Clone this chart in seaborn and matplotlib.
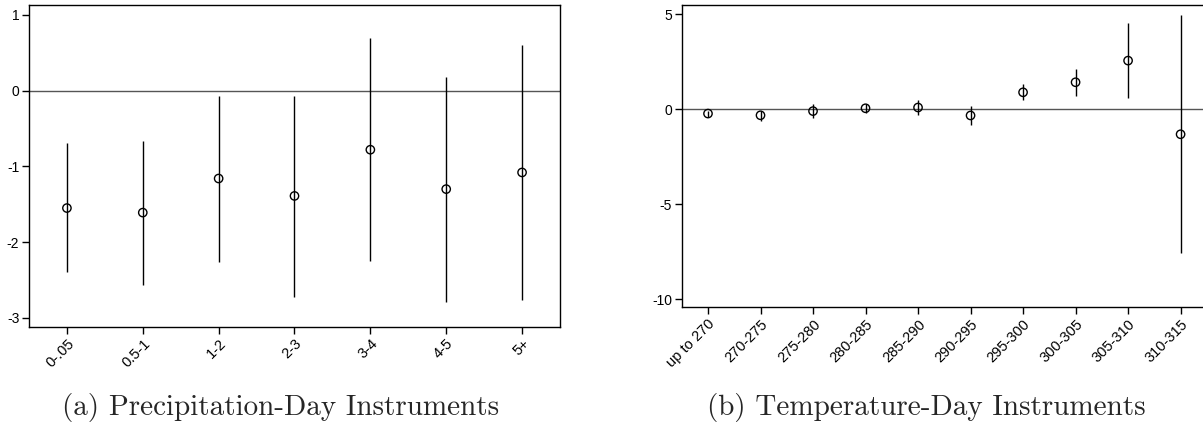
"""Coefficient plots for precipitation-day and temperature-day instruments."""

import numpy as np
import matplotlib
matplotlib.use("Agg")
import matplotlib.pyplot as plt
import seaborn as sns

# --- data ---
precip_labels = ["0-.05", "0.5-1", "1-2", "2-3", "3-4", "4-5", "5+"]
precip_coef = [-1.55, -1.61, -1.16, -1.39, -0.78, -1.30, -1.08]
precip_lo = [-2.40, -2.57, -2.26, -2.72, -2.25, -2.79, -2.77]
precip_hi = [-0.69, -0.67, -0.075, -0.075, 0.69, 0.18, 0.60]

temp_labels = ["up to 270", "270-275", "275-280", "280-285", "285-290",
               "290-295", "295-300", "300-305", "305-310", "310-315"]
temp_coef = [-0.23, -0.32, -0.10, 0.05, 0.09, -0.33, 0.89, 1.42, 2.56, -1.32]
temp_lo = [-0.40, -0.61, -0.46, -0.19, -0.32, -0.84, 0.49, 0.70, 0.58, -7.60]
temp_hi = [-0.09, -0.10, 0.25, 0.25, 0.47, 0.17, 1.32, 2.11, 4.54, 4.95]

sns.set_style("ticks")
plt.rcParams["font.family"] = ["Liberation Sans", "DejaVu Sans"]

fig = plt.figure(figsize=(12.03, 4.34), dpi=100)
ax1 = fig.add_axes([0.0241, 0.2465, 0.4414, 0.742])
# right panel runs off the edge of the page, as in the original
ax2 = fig.add_axes([0.5667, 0.2926, 0.4365, 0.6959])


def coef_panel(ax, labels, coef, lo, hi, ylim, yticks):
    x = np.arange(len(labels))
    ax.axhline(0, color="#555555", lw=1.0, zorder=1)
    ax.vlines(x, lo, hi, color="black", lw=1.0, zorder=2)
    sns.scatterplot(x=x, y=coef, ax=ax, marker="o", s=36, facecolor="none",
                    edgecolor="black", linewidth=1.0, zorder=3)
    ax.set_xlim(-0.5, len(labels) - 0.5)
    ax.set_ylim(*ylim)
    ax.set_yticks(yticks)
    ax.set_yticklabels([str(t) for t in yticks])
    ax.set_xticks(x)
    ax.set_xticklabels(labels, rotation=45, ha="right", rotation_mode="anchor")
    ax.tick_params(axis="both", length=5, width=1, colors="black", pad=2)
    ax.tick_params(axis="y", labelsize=10)
    ax.tick_params(axis="x", labelsize=10.5)
    for s in ax.spines.values():
        s.set_visible(True)
        s.set_color("black")
        s.set_linewidth(1.0)


coef_panel(ax1, precip_labels, precip_coef, precip_lo, precip_hi,
           (-3.12, 1.13), [-3, -2, -1, 0, 1])
coef_panel(ax2, temp_labels, temp_coef, temp_lo, temp_hi,
           (-10.42, 5.49), [-10, -5, 0, 5])

fig.text(0.2336, 0.062, "(a) Precipitation-Day Instruments", family="cmr10",
         fontsize=21, ha="center", va="center")
fig.text(0.770, 0.062, "(b) Temperature-Day Instruments", family="cmr10",
         fontsize=21, ha="center", va="center")

fig.savefig("out.png", dpi=100)
